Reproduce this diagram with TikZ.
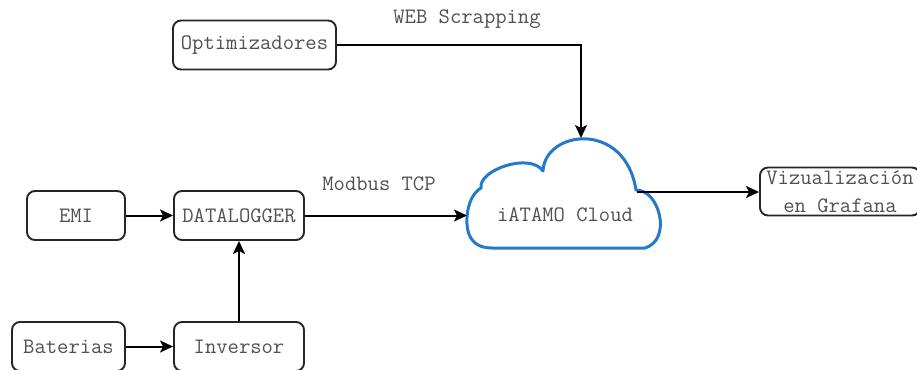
\documentclass[tikz,border=0pt]{standalone}
\usepackage{fontspec}
\usetikzlibrary{arrows.meta}
\definecolor{txtgray}{RGB}{80,80,80}
\definecolor{cloudblue}{RGB}{36,122,200}
\begin{document}
\begin{tikzpicture}[x=1pt,y=-1pt,
  box/.style={draw=black!85,rounded corners=8pt,line width=1.9pt,inner sep=0pt,minimum height=49pt},
  conn/.style={-{Stealth[length=13pt,width=12pt,inset=3pt]},line width=2pt},
  font=\fontsize{22}{28}\ttfamily,text=txtgray]
\useasboundingbox (0,0) rectangle (917,369);

\node[box,minimum width=163pt] (opt) at (254.5,45) {Optimizadores};
\node[box,minimum width=98pt] (emi) at (76,215.5) {EMI};
\node[box,minimum width=130pt] (dlog) at (239,215.5) {DATALOGGER};
\node[box,minimum width=113pt] (bat) at (68.5,346.5) {Baterias};
\node[box,minimum width=130pt] (inv) at (239,346.5) {Inversor};
\node[box,minimum width=160pt,minimum height=48pt,align=center] (viz) at (840,191.5) {Vizualización\\en Grafana};

\draw[cloudblue,line width=3pt,line join=round]
  (492,248) .. controls (470,248) and (466,232) .. (467,217)
  .. controls (468,202) and (474,192) .. (481,188)
  .. controls (478,170) and (530,152) .. (543,171)
  .. controls (545,130) and (625,120) .. (636,190)
  .. controls (660,190) and (672,240) .. (645,248)
  -- cycle;
\coordinate (cloudw) at (467,215.5);
\coordinate (cloudn) at (581,138);
\coordinate (cloude) at (637,192);
\node (cloudlbl) at (565,215) {iATAMO Cloud};

\node (web) at (467,19) {WEB Scrapping};
\node (modbus) at (379,184) {Modbus TCP};

\draw[conn] (opt.east) -| (cloudn);
\draw[conn] (emi) -- (dlog);
\draw[conn] (dlog.east) -- (cloudw);
\draw[conn] (bat) -- (inv);
\draw[conn] (inv) -- (dlog);
\draw[conn] (cloude) -- (viz.west |- cloude);
\end{tikzpicture}
\end{document}
